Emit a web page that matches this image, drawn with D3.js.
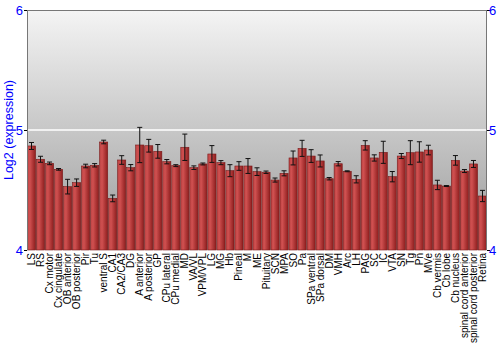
<!DOCTYPE html>
<html>
<head>
  <meta charset="utf-8">
  <script src="https://cdnjs.cloudflare.com/ajax/libs/d3/7.8.5/d3.min.js"></script>
  <style>
    body { margin: 0; background: #fff; }
    text { font-family: "Liberation Sans", Arial, sans-serif; }
    .ytick { fill: #0000ff; font-size: 13px; }
    .xlab { font-size: 10px; fill: #000; }
  </style>
</head>
<body>
  <svg id="chart" width="500" height="350"></svg>
  <script>
    var regions = ["LS","RS","Cx motor","Cx cingulate","OB anterior","OB posterior","Pir","Tu",
      "ventral S","CA1","CA2/CA3","DG","A anterior","A posterior","GP","CPu lateral","CPu medial",
      "MD","VA/VL","VPM/VPL","LG","MG","Hb","Pineal","M","ME","Pituitary","SCN","MPA","SO","Pa",
      "SPa ventral","SPa dorsal","DM","VMH","Arc","LH","PAG","SC","IC","VTA","SN","Tg","Pn","MVe",
      "Cb vermis","Cb lobe","Cb nucleus","spinal cord anterior","spinal cord posterior","Retina"];
    var expr = [4.867,4.756,4.722,4.672,4.528,4.561,4.700,4.706,4.900,4.430,4.750,4.686,
      4.875,4.869,4.822,4.736,4.703,4.856,4.686,4.717,4.800,4.728,4.661,4.700,4.700,4.653,
      4.648,4.583,4.639,4.767,4.847,4.783,4.742,4.594,4.719,4.656,4.589,4.872,4.767,4.814,
      4.611,4.783,4.811,4.817,4.833,4.542,4.533,4.747,4.658,4.717,4.450];
    var errs = [0.029,0.025,0.011,0.007,0.061,0.031,0.015,0.014,0.015,0.028,0.036,0.026,
      0.147,0.053,0.057,0.018,0.008,0.110,0.015,0.008,0.070,0.017,0.050,0.036,0.062,0.032,
      0.010,0.017,0.021,0.058,0.067,0.053,0.050,0.010,0.018,0.004,0.030,0.039,0.026,0.092,
      0.043,0.021,0.100,0.085,0.040,0.039,0.004,0.040,0.0125,0.029,0.047];
    var yTicks = [4, 5, 6];

    var svg = d3.select("#chart");
    var mLeft = 27, mRight = 487, mTop = 10, mBottom = 250;

    var x = d3.scaleBand().domain(regions).range([mLeft, mRight]).paddingInner(0.1).paddingOuter(0.05);
    var y = d3.scaleLinear().domain([4, 6]).range([mBottom, mTop]);

    var defs = svg.append("defs");
    var bg = defs.append("linearGradient").attr("id","bg").attr("x1",0).attr("y1",0).attr("x2",0).attr("y2",1);
    bg.append("stop").attr("offset","0%").attr("stop-color","#f4f4f4");
    bg.append("stop").attr("offset","100%").attr("stop-color","#9a9a9a");
    var bar = defs.append("linearGradient").attr("id","bar").attr("x1",0).attr("y1",0).attr("x2",1).attr("y2",0);
    bar.append("stop").attr("offset","0%").attr("stop-color","#bc4444");
    bar.append("stop").attr("offset","30%").attr("stop-color","#d05050");
    bar.append("stop").attr("offset","100%").attr("stop-color","#8e1e1e");

    svg.append("rect").attr("x", mLeft).attr("y", mTop)
      .attr("width", mRight - mLeft).attr("height", mBottom - mTop)
      .attr("fill", "url(#bg)");

    // grid line at 5
    svg.append("line").attr("x1", mLeft).attr("x2", mRight)
      .attr("y1", y(5)).attr("y2", y(5))
      .attr("stroke", "#ffffff").attr("stroke-width", 1.5);

    svg.append("g").selectAll("rect").data(regions).enter().append("rect")
      .attr("x", d => x(d))
      .attr("width", x.bandwidth())
      .attr("y", (d, i) => y(expr[i]))
      .attr("height", (d, i) => mBottom - y(expr[i]))
      .attr("fill", "url(#bar)")
      .attr("stroke", "#7a1a1a").attr("stroke-width", 0.6);

    var eg = svg.append("g").attr("stroke", "#111").attr("stroke-width", 1);
    regions.forEach(function(d, i) {
      var cx = x(d) + x.bandwidth() / 2;
      var y1 = y(expr[i] + errs[i]), y2 = y(expr[i] - errs[i]);
      eg.append("line").attr("x1", cx).attr("x2", cx).attr("y1", y1).attr("y2", y2);
      eg.append("line").attr("x1", cx - 2.5).attr("x2", cx + 2.5).attr("y1", y1).attr("y2", y1);
      eg.append("line").attr("x1", cx - 2.5).attr("x2", cx + 2.5).attr("y1", y2).attr("y2", y2);
    });

    // frame
    svg.append("line").attr("x1", mLeft).attr("x2", mRight).attr("y1", mTop + 0.5).attr("y2", mTop + 0.5)
      .attr("stroke", "#777");
    svg.append("line").attr("x1", mLeft + 0.5).attr("x2", mLeft + 0.5).attr("y1", mTop).attr("y2", mBottom)
      .attr("stroke", "#777");
    svg.append("line").attr("x1", mRight - 0.5).attr("x2", mRight - 0.5).attr("y1", mTop).attr("y2", mBottom)
      .attr("stroke", "#777");

    var yl = svg.append("g").attr("transform", "translate(" + mLeft + ",0)")
      .call(d3.axisLeft(y).tickValues(yTicks).tickSize(3).tickFormat(d3.format("d")));
    var yr = svg.append("g").attr("transform", "translate(" + mRight + ",0)")
      .call(d3.axisRight(y).tickValues(yTicks).tickSize(3).tickFormat(d3.format("d")));
    [yl, yr].forEach(function(g) {
      g.select(".domain").remove();
      g.selectAll(".tick line").attr("stroke", "#000");
      g.selectAll(".tick text").attr("class", "ytick").attr("font-size", null).attr("font-family", null);
    });
    yl.selectAll(".tick text").attr("x", -4);
    yr.selectAll(".tick text").attr("x", 2);

    svg.append("g").selectAll("text").data(regions).enter().append("text")
      .attr("class", "xlab")
      .attr("transform", d => "translate(" + (x(d) + x.bandwidth() / 2 + 3.5) + "," + (mBottom + 3) + ") rotate(-90)")
      .attr("text-anchor", "end")
      .text(d => d);

    svg.append("text")
      .attr("transform", "translate(13," + ((mTop + mBottom) / 2) + ") rotate(-90)")
      .attr("text-anchor", "middle")
      .attr("fill", "#0000ff")
      .attr("font-size", 12.5)
      .text("Log2 (expression)");
  </script>
</body>
</html>
